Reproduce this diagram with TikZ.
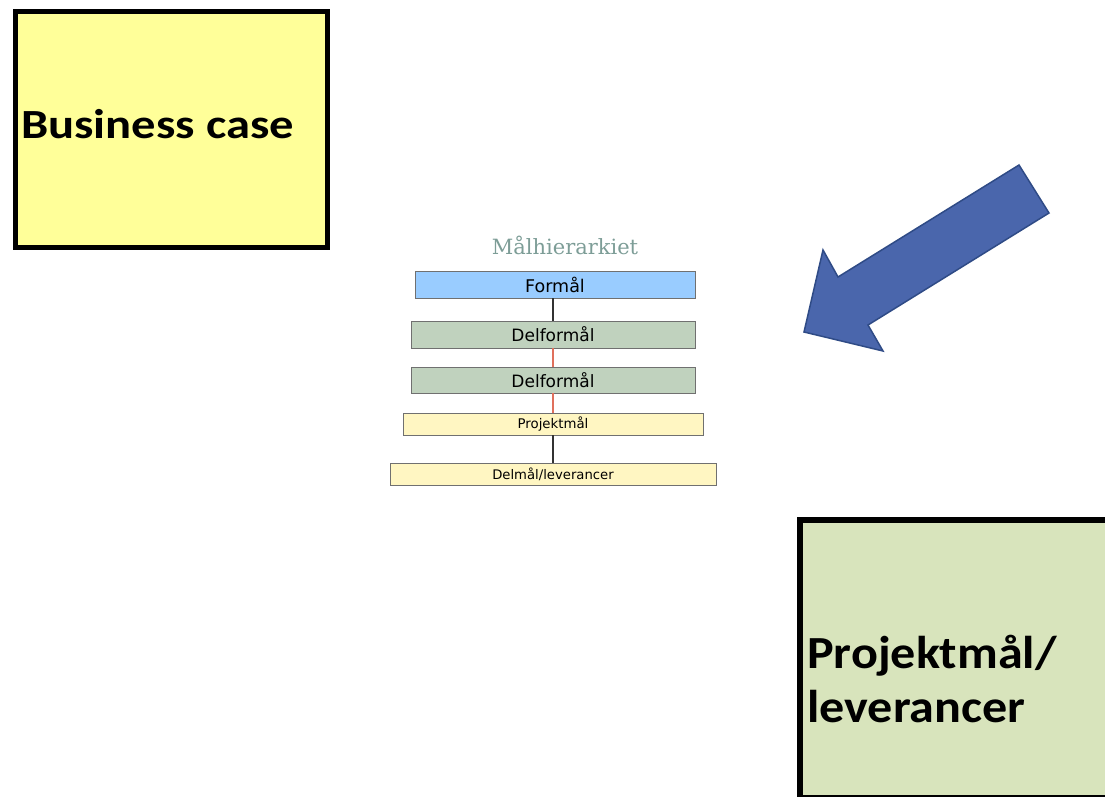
\documentclass[tikz,border=0pt]{standalone}
\usepackage{fontspec}
\setmainfont{Carlito}
\newfontfamily\hierfont{DejaVu Sans}
\newfontfamily\titlefont{DejaVu Serif}
\definecolor{bcfill}{HTML}{FFFF99}
\definecolor{plfill}{HTML}{D8E4BC}
\definecolor{formfill}{HTML}{99CCFF}
\definecolor{delfill}{HTML}{C0D2BE}
\definecolor{pmfill}{HTML}{FFF6C2}
\definecolor{boxline}{HTML}{707070}
\definecolor{redlink}{HTML}{E0705C}
\definecolor{darklink}{HTML}{333333}
\definecolor{titlecol}{HTML}{7D9D97}
\definecolor{arrowfill}{HTML}{4A66AC}
\definecolor{arrowline}{HTML}{2F4B86}
\tikzset{
  bigbox/.style={draw=black, line width=5pt, inner sep=0pt, rectangle},
  bigtext/.style={inner sep=0pt, anchor=base west, transform shape},
  level/.style={draw=boxline, line width=0.8pt, inner sep=0pt, rectangle, font=\hierfont},
  link/.style={line width=1.8pt},
}
\begin{document}
\begin{tikzpicture}[x=1pt, y=-1pt]
\useasboundingbox (0,0) rectangle (1105,796);

% left summary box
\node[bigbox, fill=bcfill, minimum width=312pt, minimum height=236pt] (bc) at (171,129.5) {};
\node[bigtext, xscale=1.17, font=\bfseries\fontsize{41.5}{41.5}\selectfont] (bctext) at (21,138.5) {Business case};

% lower right box, running off the page edge
\node[bigbox, line width=6pt, fill=plfill, minimum width=310pt, minimum height=278pt] (pl) at (955,659) {};
\node[bigtext, xscale=1.09, font=\bfseries\fontsize{46}{51}\selectfont] (pltext1) at (807,668) {Projektmål/};
\node[bigtext, xscale=1.09, font=\bfseries\fontsize{46}{51}\selectfont] (pltext2) at (807,722) {leverancer};

% goal hierarchy
\node[font=\titlefont\fontsize{21}{21}\selectfont, text=titlecol, inner sep=0pt] (title) at (565,245) {Målhierarkiet};
\node[level, fill=formfill, minimum width=280pt, minimum height=27pt, font=\hierfont\fontsize{17.5}{17.5}\selectfont] (f) at (555,284.5) {Formål};
\node[level, fill=delfill, minimum width=284pt, minimum height=27pt, font=\hierfont\fontsize{17}{17}\selectfont] (d1) at (553,334.5) {Delformål};
\node[level, fill=delfill, minimum width=284pt, minimum height=26pt, font=\hierfont\fontsize{17}{17}\selectfont] (d2) at (553,380) {Delformål};
\node[level, fill=pmfill, minimum width=300pt, minimum height=22pt, font=\hierfont\fontsize{13.3}{13.3}\selectfont] (pm) at (553,424) {Projektmål};
\node[level, fill=pmfill, minimum width=326pt, minimum height=22pt, font=\hierfont\fontsize{13.2}{13.2}\selectfont] (dm) at (553,474) {Delmål/leverancer};

\draw[link, darklink] (d1.north |- f.south) -- (d1.north);
\draw[link, redlink] (d1.south) -- (d2.north);
\draw[link, redlink] (d2.south) -- (pm.north);
\draw[link, darklink] (pm.south) -- (dm.north);

% block arrow pointing at the hierarchy
\draw[fill=arrowfill, draw=arrowline, line width=1.5pt, line join=miter]
  (1019,165) -- (1049,213) -- (868,325) -- (883,351) -- (804,332)
  -- (823,250) -- (838,277) -- cycle;
\end{tikzpicture}
\end{document}
